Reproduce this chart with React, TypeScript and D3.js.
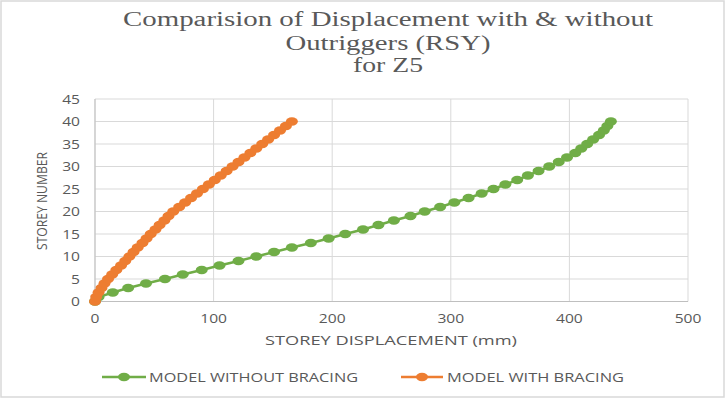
import * as React from 'react';
import * as d3 from 'd3';

// storey numbers (y values)
const storeys = [0, 1, 2, 3, 4, 5, 6, 7, 8, 9, 10, 11, 12, 13, 14, 15, 16, 17, 18, 19, 20,
  21, 22, 23, 24, 25, 26, 27, 28, 29, 30, 31, 32, 33, 34, 35, 36, 37, 38, 39, 40];

// storey displacement (mm)
const withoutBracing = [0, 3, 15, 28, 43, 59, 74, 90, 105, 121, 136, 151, 166, 182, 197, 211,
  226, 239, 252, 266, 278, 291, 303, 315, 326, 336, 346, 356, 365, 374, 383, 391, 398, 405,
  410, 415, 420, 425, 429, 432, 435];
const withBracing = [0, 1, 3, 5.5, 8, 11, 14.5, 18, 22, 25.5, 29, 32.5, 36, 40, 43.5, 47,
  51, 54.5, 58.5, 62, 66, 71, 76, 81, 86, 91, 96, 101, 106, 111, 116, 121, 126, 131, 136,
  141, 146, 151, 156, 161, 166];

const seriesNames = ['MODEL WITHOUT BRACING', 'MODEL WITH BRACING'];
const seriesColors = ['#70AD47', '#ED7D31'];
const titleLines = ['Comparision of Displacement with & without', 'Outriggers (RSY)', 'for Z5'];
const xTicks = [0, 100, 200, 300, 400, 500];
const yTicks = [0, 5, 10, 15, 20, 25, 30, 35, 40, 45];

const W = 726;
const H = 399;
const plot = { left: 95, right: 688, top: 99, bottom: 301.5 };
const sans = '"Open Sans", "Liberation Sans", sans-serif';
const serif = '"Liberation Serif", "DejaVu Serif", serif';
const textGray = '#595959';

export default function App() {
  const x = d3.scaleLinear().domain([0, 500]).range([plot.left, plot.right]);
  const y = d3.scaleLinear().domain([0, 45]).range([plot.bottom, plot.top]);

  const line = d3.line<number>()
    .x((d) => x(d))
    .y((_, i) => y(storeys[i]));

  const series = [withoutBracing, withBracing];
  const titleLens = [530, 205, 70];
  const titleBase = [26, 50, 72];
  const titleCx = 388;

  const legendItems = [
    { x0: 102, x1: 146, tx: 149, tl: 209 },
    { x0: 401, x1: 443, tx: 447, tl: 177 },
  ];

  return (
    <div style={{ position: 'absolute', left: 0, top: 0 }}>
      <svg width={W} height={H} style={{ display: 'block' }}>
        <rect x={0} y={0} width={W} height={H} fill="#fff" />
        <rect x={1} y={1} width={723} height={396} fill="none" stroke="#d9d9d9" strokeWidth={1.5} />

        {titleLines.map((t, i) => (
          <text key={t} x={titleCx} y={titleBase[i]} textAnchor="middle" fontFamily={serif}
            fontSize={20} fill={textGray} textLength={titleLens[i]} lengthAdjust="spacingAndGlyphs">
            {t}
          </text>
        ))}

        {/* gridlines */}
        <g stroke="#d9d9d9" strokeWidth={1}>
          {yTicks.map((t) => (
            <line key={'gy' + t} x1={plot.left} x2={plot.right} y1={y(t)} y2={y(t)} />
          ))}
          {xTicks.map((t) => (
            <line key={'gx' + t} x1={x(t)} x2={x(t)} y1={plot.top} y2={plot.bottom} />
          ))}
        </g>
        <line x1={x(0)} x2={x(0)} y1={plot.top} y2={plot.bottom} stroke="#bfbfbf" />
        <line x1={plot.left} x2={plot.right} y1={y(0)} y2={y(0)} stroke="#bfbfbf" />

        {/* tick labels */}
        {yTicks.map((t) => (
          <g key={'ly' + t} transform={`translate(80,${y(t) + 4.5}) scale(1.2,1)`}>
            <text textAnchor="end" fontFamily={sans} fontSize={13} fill={textGray}>{t}</text>
          </g>
        ))}
        {xTicks.map((t) => (
          <g key={'lx' + t} transform={`translate(${x(t)},323) scale(1.2,1)`}>
            <text textAnchor="middle" fontFamily={sans} fontSize={13} fill={textGray}>{t}</text>
          </g>
        ))}

        {/* axis titles */}
        <text x={391} y={345} textAnchor="middle" fontFamily={sans} fontSize={13} fill={textGray}
          textLength={252} lengthAdjust="spacingAndGlyphs">STOREY DISPLACEMENT (mm)</text>
        <text transform="translate(47,201) rotate(-90)" textAnchor="middle" fontFamily={sans}
          fontSize={15} fill={textGray} textLength={98} lengthAdjust="spacingAndGlyphs">STOREY NUMBER</text>

        {/* series */}
        {series.map((s, si) => (
          <g key={'s' + si}>
            <path d={line(s) || ''} fill="none" stroke={seriesColors[si]} strokeWidth={2.5} />
            {s.map((d, i) => (
              <ellipse key={i} cx={x(d)} cy={y(storeys[i])} rx={6} ry={4.2} fill={seriesColors[si]} />
            ))}
          </g>
        ))}

        {/* legend */}
        {legendItems.map((l, i) => (
          <g key={'lg' + i}>
            <line x1={l.x0} x2={l.x1} y1={377} y2={377} stroke={seriesColors[i]} strokeWidth={2.5} />
            <ellipse cx={(l.x0 + l.x1) / 2} cy={377} rx={6} ry={4.2} fill={seriesColors[i]} />
            <text x={l.tx} y={382} fontFamily={sans} fontSize={13} fill={textGray}
              textLength={l.tl} lengthAdjust="spacingAndGlyphs">{seriesNames[i]}</text>
          </g>
        ))}
      </svg>
    </div>
  );
}
